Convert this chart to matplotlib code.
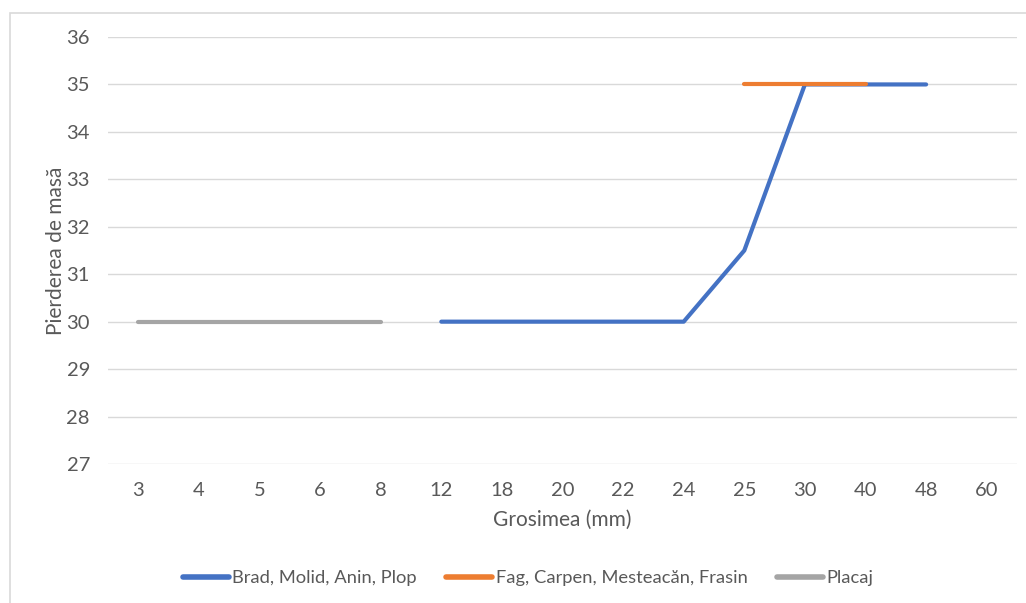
import matplotlib
matplotlib.use("Agg")
import matplotlib.pyplot as plt
from matplotlib.patches import Rectangle

# Thickness categories (mm) on the horizontal axis
categories = ["3", "4", "5", "6", "8", "12", "18", "20", "22", "24", "25", "30", "40", "48", "60"]

# Mass loss per wood group; None where the group has no value
brad = [None, None, None, None, None, 30, 30, 30, 30, 30, 31.5, 35, 35, 35, None]
fag = [None, None, None, None, None, None, None, None, None, None, 35, 35, 35, None, None]
placaj = [30, 30, 30, 30, 30, None, None, None, None, None, None, None, None, None, None]

series_names = ["Brad, Molid, Anin, Plop", "Fag, Carpen, Mesteacăn, Frasin", "Placaj"]
series_colors = ["#4472C4", "#ED7D31", "#A5A5A5"]
yticks = [27, 28, 29, 30, 31, 32, 33, 34, 35, 36]

text_color = "#595959"
grid_color = "#D9D9D9"
plt.rcParams["font.family"] = ["Lato", "DejaVu Sans"]

W, H = 1026, 603
fig = plt.figure(figsize=(W / 100, H / 100), dpi=100)
fig.patch.set_facecolor("white")

# chart-area border
fig.patches.append(Rectangle((10 / W, -0.2), 1.2, 1.2 - 13 / H, transform=fig.transFigure,
                             fill=False, edgecolor=grid_color, linewidth=1.2))

ax = fig.add_axes([108 / W, 1 - 464 / H, (1017 - 108) / W, (464 - 37) / H])
x = list(range(len(categories)))


def to_xy(vals):
    xs = [i for i, v in zip(x, vals) if v is not None]
    ys = [v for v in vals if v is not None]
    return xs, ys


for vals, name, col in zip([brad, fag, placaj], series_names, series_colors):
    xs, ys = to_xy(vals)
    ax.plot(xs, ys, color=col, linewidth=3.0, solid_capstyle="round",
            solid_joinstyle="round", label=name, zorder=3)

ax.set_xlim(-0.5, len(categories) - 0.5)
ax.set_ylim(27, 36)
ax.set_xticks(x)
ax.set_xticklabels(categories)
ax.set_yticks(yticks)
ax.yaxis.grid(True, color=grid_color, linewidth=1.0)
ax.set_axisbelow(True)
for s in ax.spines.values():
    s.set_visible(False)
ax.tick_params(length=0, colors=text_color, labelsize=14.5)
ax.tick_params(axis="x", pad=13)
ax.tick_params(axis="y", pad=13)

ax.set_xlabel("Grosimea (mm)", color=text_color, fontsize=15, labelpad=8)
ax.set_ylabel("Pierderea de masă", color=text_color, fontsize=15, labelpad=0)

handles, labels = ax.get_legend_handles_labels()
leg = fig.legend(handles, labels, loc="center", bbox_to_anchor=(528 / W, 1 - 578 / H),
                 ncol=3, frameon=False, fontsize=13.2, handlelength=2.5,
                 handletextpad=0.2, columnspacing=1.6)
for t in leg.get_texts():
    t.set_color(text_color)
for l in leg.get_lines():
    l.set_linewidth(4.0)
    l.set_solid_capstyle("round")

fig.savefig("out.png", dpi=100, facecolor="white")
